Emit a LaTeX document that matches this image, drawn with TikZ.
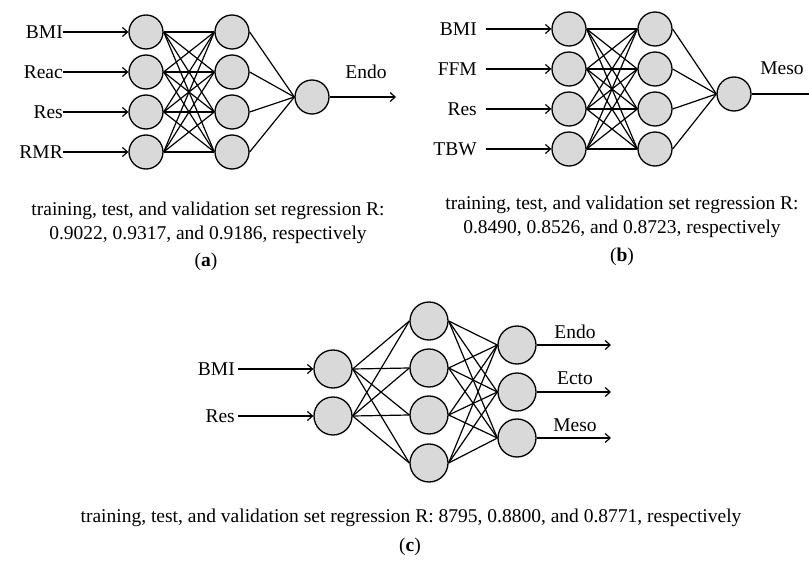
\documentclass[tikz,border=0pt]{standalone}
\usepackage{fontspec}
\setmainfont{Liberation Serif}
\usetikzlibrary{arrows.meta}

\begin{document}
\begin{tikzpicture}[
  x=1pt, y=-1pt,
  font=\fontsize{19.5}{24}\selectfont,
  >={Straight Barb[length=5pt,width=9pt]},
  neuron/.style={draw, circle, fill=gray!30, line width=1.3pt,
                 minimum size=34pt, inner sep=0pt},
  bigNeuron/.style={neuron, minimum size=38pt},
  inLabel/.style={anchor=east, inner sep=0pt},
  link/.style={line width=1.2pt},
  arr/.style={->, line width=1.2pt},
  capText/.style={align=center, inner sep=0pt},
]
\useasboundingbox (0,0) rectangle (809,564);

% (a)
\node[neuron] (a1) at (146,32)  {};
\node[neuron] (a2) at (146,72)  {};
\node[neuron] (a3) at (146,112) {};
\node[neuron] (a4) at (146,152) {};
\node[neuron] (ah1) at (232,32)  {};
\node[neuron] (ah2) at (232,72)  {};
\node[neuron] (ah3) at (232,112) {};
\node[neuron] (ah4) at (232,152) {};
\node[neuron] (aout) at (312,97) {};
\node[inLabel] (aBMI)  at (63,32)  {BMI};
\node[inLabel] (aReac) at (63,72)  {Reac};
\node[inLabel] (aRes)  at (63,112) {Res};
\node[inLabel] (aRMR)  at (63,152) {RMR};
\node (aEndo) at (366,72) {Endo};
\coordinate (aEnd) at (396,97);

\draw[arr] (aBMI.east)  -- (a1.west);
\draw[arr] (aReac.east) -- (a2.west);
\draw[arr] (aRes.east)  -- (a3.west);
\draw[arr] (aRMR.east)  -- (a4.west);
\foreach \i in {1,...,4}
  \foreach \j in {1,...,4}
    \draw[link] (a\i.east) -- (ah\j.west);
\foreach \j in {1,...,4}
  \draw[link] (ah\j.east) -- (aout.west);
\draw[arr] (aout.east) -- (aEnd);

\node[capText] (aCap) at (208,223) {training, test, and validation set regression R:\\0.9022, 0.9317, and 0.9186, respectively};
\node (aTag) at (206,262) {(\textbf{a})};

% (b)
\node[neuron] (b1) at (569,29)  {};
\node[neuron] (b2) at (569,69)  {};
\node[neuron] (b3) at (569,109) {};
\node[neuron] (b4) at (569,149) {};
\node[neuron] (bh1) at (655,29)  {};
\node[neuron] (bh2) at (655,69)  {};
\node[neuron] (bh3) at (655,109) {};
\node[neuron] (bh4) at (655,149) {};
\node[neuron] (bout) at (734,94) {};
\node[inLabel] (bBMI) at (477,29)  {BMI};
\node[inLabel] (bFFM) at (477,69)  {FFM};
\node[inLabel] (bRes) at (477,109) {Res};
\node[inLabel] (bTBW) at (477,149) {TBW};
\node (bMeso) at (782,68) {Meso};
\coordinate (bEnd) at (809,94);

\draw[arr] ([xshift=9pt]bBMI.east) -- (b1.west);
\draw[arr] ([xshift=9pt]bFFM.east) -- (b2.west);
\draw[arr] ([xshift=9pt]bRes.east) -- (b3.west);
\draw[arr] ([xshift=9pt]bTBW.east) -- (b4.west);
\foreach \i in {1,...,4}
  \foreach \j in {1,...,4}
    \draw[link] (b\i.east) -- (bh\j.west);
\foreach \j in {1,...,4}
  \draw[link] (bh\j.east) -- (bout.west);
\draw[link] (bout.east) -- (bEnd);

\node[capText] (bCap) at (622,217) {training, test, and validation set regression R:\\0.8490, 0.8526, and 0.8723, respectively};
\node (bTag) at (622,257) {(\textbf{b})};

% (c)
\node[bigNeuron] (c1) at (333,369) {};
\node[bigNeuron] (c2) at (333,416) {};
\node[bigNeuron] (ch1) at (429,321) {};
\node[bigNeuron] (ch2) at (429,368) {};
\node[bigNeuron] (ch3) at (429,415) {};
\node[bigNeuron] (ch4) at (429,463) {};
\node[bigNeuron] (co1) at (517,345) {};
\node[bigNeuron] (co2) at (517,392) {};
\node[bigNeuron] (co3) at (517,438) {};
\node[inLabel] (cBMI) at (235,369) {BMI};
\node[inLabel] (cRes) at (235,416) {Res};
\node (cEndo) at (575,332) {Endo};
\node (cEcto) at (575,378) {Ecto};
\node (cMeso) at (575,425) {Meso};
\coordinate (cEnd1) at (611,345);
\coordinate (cEnd2) at (611,392);
\coordinate (cEnd3) at (611,438);

\draw[arr] ([xshift=3pt]cBMI.east) -- (c1.west);
\draw[arr] ([xshift=3pt]cRes.east) -- (c2.west);
\foreach \i in {1,2}
  \foreach \j in {1,...,4}
    \draw[link] (c\i.east) -- (ch\j.west);
\foreach \i in {1,...,4}
  \foreach \j in {1,2,3}
    \draw[link] (ch\i.east) -- (co\j.west);
\draw[arr] (co1.east) -- (cEnd1);
\draw[arr] (co2.east) -- (cEnd2);
\draw[arr] (co3.east) -- (cEnd3);

\node[capText] (cCap) at (411,518) {training, test, and validation set regression R: 8795, 0.8800, and 0.8771, respectively};
\node (cTag) at (410,547) {(\textbf{c})};
\end{tikzpicture}
\end{document}
